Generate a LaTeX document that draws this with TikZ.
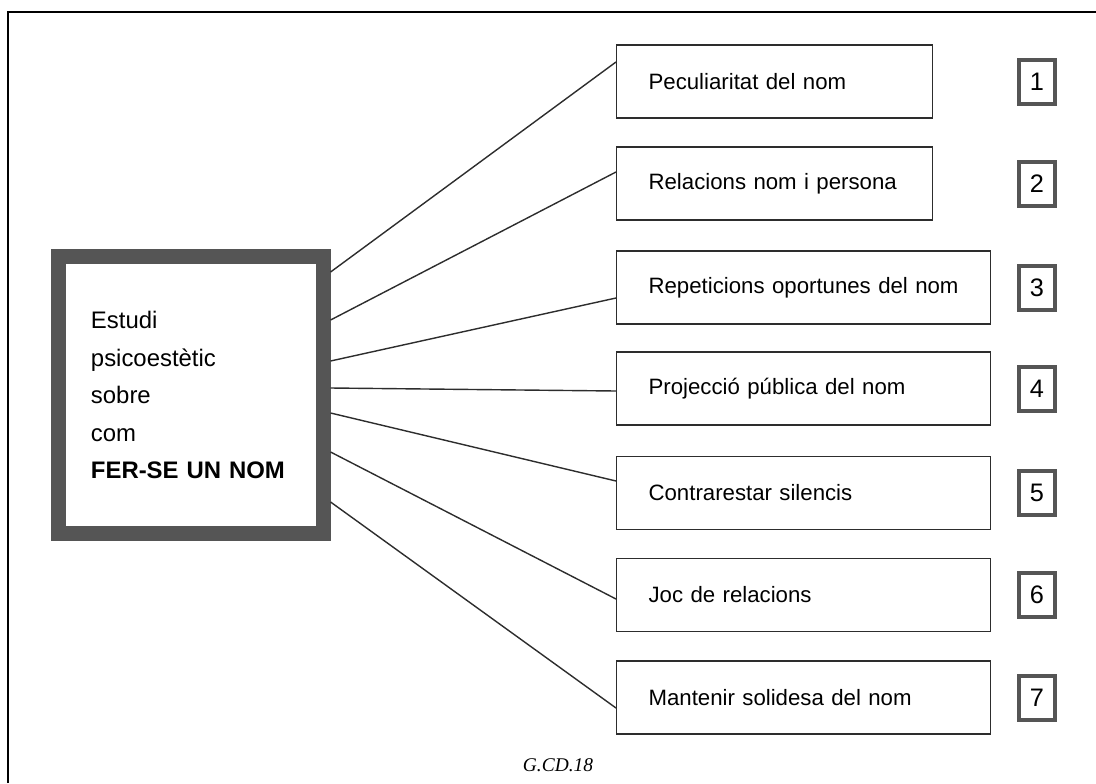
\documentclass[tikz,border=0pt]{standalone}
\usepackage{fontspec}
\setmainfont{Liberation Sans}
\newfontfamily\capfont{Liberation Serif}
\usepackage{tikz}
\usetikzlibrary{calc}
\definecolor{FNInk}{RGB}{45,45,45}
\definecolor{FNFrame}{RGB}{85,85,85}

\begin{document}
\begin{tikzpicture}[x=0.025cm, y=-0.025cm,
      topic/.style={rectangle, draw=FNInk, line width=0.8pt, anchor=west,
                    minimum height=1.825cm, inner xsep=0.8cm, align=left,
                    font=\fontsize{15.8}{18}\selectfont},
      short/.style={topic, text width=6.3cm},
      long/.style={topic, text width=7.75cm},
      num/.style={rectangle, draw=FNFrame, line width=2.6pt,
                  minimum width=0.9cm, minimum height=1.1cm,
                  font=\fontsize{18}{20}\selectfont},
      link/.style={draw=FNInk, line width=1pt}
    ]
    \useasboundingbox (0,0) rectangle (1096,783);

    % Page frame
    \draw[line width=1.4pt] (8,783) -- (8,12) -- (1096,12);

    % Central study box
    \node[rectangle, draw=FNFrame, line width=10.7pt,
          minimum width=6.6cm, minimum height=6.9cm,
          text width=5.0cm, align=left,
          font=\fontsize{17}{26.7}\selectfont]
          (study) at (191,395)
          {Estudi\\psicoestètic\\sobre\\com\\\textbf{FER-SE UN NOM}};

    % Topics
    \node[short] (t1) at (616,81.5)  {Peculiaritat del nom};
    \node[short] (t2) at (616,183.5) {Relacions nom i persona};
    \node[long]  (t3) at (616,287.5) {Repeticions oportunes del nom};
    \node[long]  (t4) at (616,388.5) {Projecció pública del nom};
    \node[long]  (t5) at (616,493)   {Contrarestar silencis};
    \node[long]  (t6) at (616,595)   {Joc de relacions};
    \node[long]  (t7) at (616,697.5) {Mantenir solidesa del nom};

    % Numbers
    \node[num] (n1) at (1037,82)  {1};
    \node[num] (n2) at (1037,184) {2};
    \node[num] (n3) at (1037,288) {3};
    \node[num] (n4) at (1037,389) {4};
    \node[num] (n5) at (1037,493) {5};
    \node[num] (n6) at (1037,595) {6};
    \node[num] (n7) at (1037,698) {7};

    % Connectors
    \draw[link] ($(study.east)+(0,-123)$) -- ($(t1.west)+(0,-19.5)$);
    \draw[link] ($(study.east)+(0,-75)$)  -- ($(t2.west)+(0,-11.5)$);
    \draw[link] ($(study.east)+(0,-34)$)  -- ($(t3.west)+(0,10.5)$);
    \draw[link] ($(study.east)+(0,-7)$)   -- ($(t4.west)+(0,2.5)$);
    \draw[link] ($(study.east)+(0,18)$)   -- ($(t5.west)+(0,-12)$);
    \draw[link] ($(study.east)+(0,57)$)   -- ($(t6.west)+(0,4)$);
    \draw[link] ($(study.east)+(0,107)$)  -- ($(t7.west)+(0,10.5)$);

    % Caption
    \node[font=\capfont\itshape\fontsize{13.8}{16}\selectfont] (cap) at (558,765) {G.CD.18};
  \end{tikzpicture}
\end{document}
